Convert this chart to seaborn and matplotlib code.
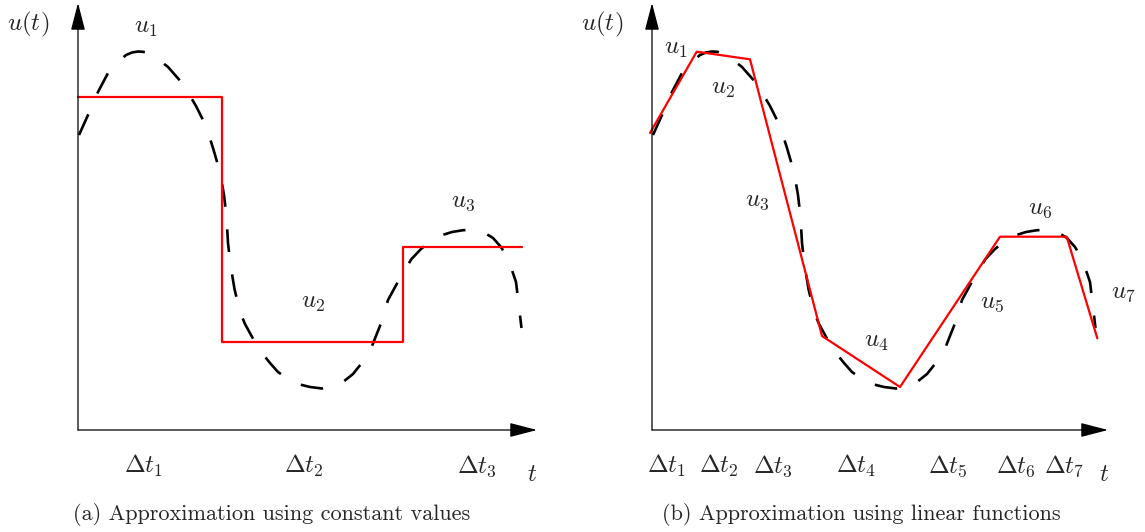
import numpy as np
import matplotlib
matplotlib.use("Agg")
import matplotlib.pyplot as plt
import seaborn as sns

sns.set_theme(style="white")
plt.rcParams["mathtext.fontset"] = "cm"
plt.rcParams["font.family"] = ["DejaVu Sans"]

# Exact signal u(t) (dashed), shared by both panels
curve_t = [0.1, 1.0, 2.0, 3.0, 4.0, 4.8, 5.4, 6.0, 6.5, 7.0, 8.0, 9.0, 10.5,
           11.8, 12.8, 13.5, 14.2, 14.6, 14.85, 15.0, 15.25, 15.65, 16.2, 16.7,
           17.3, 17.8, 18.4, 19.2, 20.0, 21.0, 22.0, 23.2, 24.4, 25.5, 26.5,
           27.5, 28.3, 29.4, 30.35, 31.0, 32.2, 33.35, 34.3, 35.3, 36.3, 37.4,
           38.5, 39.7, 40.6, 41.5, 42.3, 43.05, 43.8, 44.1, 44.35]
curve_u = [29.5, 31.5, 33.8, 35.7, 36.8, 37.5, 37.75, 37.85, 37.82, 37.7,
           37.1, 36.3, 34.6, 32.4, 30.4, 28.2, 25.8, 23.5, 21.3, 18.7, 16.5,
           14.1, 11.8, 10.6, 9.5, 8.6, 7.7, 6.7, 5.8, 5.1, 4.6, 4.3, 4.15,
           4.35, 4.8, 5.6, 6.6, 8.4, 10.8, 13.0, 15.2, 17.1, 18.1, 18.9, 19.45,
           19.8, 19.98, 20.0, 19.75, 19.2, 18.3, 17.0, 14.8, 12.3, 10.2]

# (a) piecewise-constant approximation
const_t = [0.0, 14.37, 32.53, 44.37]
const_u = [33.33, 8.83, 18.33, 18.33]
const_labels = [r"$u_1$", r"$u_2$", r"$u_3$"]
const_label_pos = [(6.8, 40.3), (23.5, 12.8), (38.5, 22.9)]
const_dt_t = [6.6, 22.6, 39.9]

# (b) piecewise-linear approximation
lin_t = [-0.2, 4.47, 9.8, 17.0, 24.8, 34.8, 41.47, 44.53]
lin_u = [29.7, 37.83, 37.07, 9.4, 4.3, 19.33, 19.33, 9.17]
lin_labels = [r"$u_1$", r"$u_2$", r"$u_3$", r"$u_4$", r"$u_5$", r"$u_6$", r"$u_7$"]
lin_label_pos = [(2.4, 38.2), (7.1, 34.2), (10.5, 23.0), (22.4, 8.9),
                 (34.0, 12.8), (38.8, 22.2), (47.1, 13.8)]
lin_dt_t = [1.5, 6.7, 12.1, 20.4, 29.6, 36.4, 41.2]

captions = ["(a) Approximation using constant values",
            "(b) Approximation using linear functions"]

W, H = 1145, 532
fig = plt.figure(figsize=(W / 100, H / 100), dpi=100)

# each panel: origin pixel and horizontal pixel span
panels = [dict(ox=78, oy=430, x0=0, x1=572, tip=45.9),
          dict(ox=652, oy=430, x0=572, x1=1145, tip=45.6)]
axes = []
for p in panels:
    ax = fig.add_axes([p["x0"] / W, 0, (p["x1"] - p["x0"]) / W, 1])
    ax.set_xlim((p["x0"] - p["ox"]) / 10, (p["x1"] - p["ox"]) / 10)
    ax.set_ylim((p["oy"] - H) / 10, p["oy"] / 10)
    ax.set_axis_off()
    axes.append(ax)

math_fs = 18
cap_fs = 16
red = "#ff0000"


def draw_axes(ax, tip_t, tip_u=42.7):
    arrow = dict(arrowstyle="-|>,head_length=1.0,head_width=0.26",
                 mutation_scale=17, lw=0.9, color="black",
                 shrinkA=0, shrinkB=0)
    ax.annotate("", xy=(tip_t, 0), xytext=(0, 0), arrowprops=arrow,
                annotation_clip=False)
    ax.annotate("", xy=(0, tip_u), xytext=(0, 0), arrowprops=arrow,
                annotation_clip=False)
    ax.text(-5.0, 40.6, r"$u(t)$", fontsize=math_fs, ha="center", va="center")


def draw_signal(ax):
    sns.lineplot(x=curve_t, y=curve_u, estimator=None, sort=False, ax=ax,
                 color="black", lw=1.9)
    line = ax.lines[-1]
    line.set_linestyle((0, (8.6, 8.6)))
    line.set_dash_capstyle("butt")
    line.set_solid_joinstyle("round")
    line.set_dash_joinstyle("round")


# ---- panel (a)
ax = axes[0]
draw_axes(ax, panels[0]["tip"])
draw_signal(ax)
sns.lineplot(x=const_t, y=const_u, estimator=None, ax=ax, color=red,
             lw=1.6, drawstyle="steps-post")
for lab, (x, y) in zip(const_labels, const_label_pos):
    ax.text(x, y, lab, fontsize=math_fs, ha="center", va="center")
for i, x in enumerate(const_dt_t):
    ax.text(x, -3.6, rf"$\Delta t_{i + 1}$", fontsize=math_fs, ha="center", va="center")
ax.text(45.4, -4.4, r"$t$", fontsize=math_fs, ha="center", va="center")
ax.text(19.4, -8.4, captions[0], fontsize=cap_fs, family="cmr10",
        ha="center", va="center")

# ---- panel (b)
ax = axes[1]
draw_axes(ax, panels[1]["tip"])
draw_signal(ax)
sns.lineplot(x=lin_t, y=lin_u, estimator=None, sort=False, ax=ax,
             color=red, lw=1.6)
for lab, (x, y) in zip(lin_labels, lin_label_pos):
    ax.text(x, y, lab, fontsize=math_fs, ha="center", va="center")
for i, x in enumerate(lin_dt_t):
    ax.text(x, -3.6, rf"$\Delta t_{i + 1}$", fontsize=math_fs, ha="center", va="center")
ax.text(45.2, -4.4, r"$t$", fontsize=math_fs, ha="center", va="center")
ax.text(20.9, -8.4, captions[1], fontsize=cap_fs, family="cmr10",
        ha="center", va="center")

fig.savefig("out.png", dpi=100)
